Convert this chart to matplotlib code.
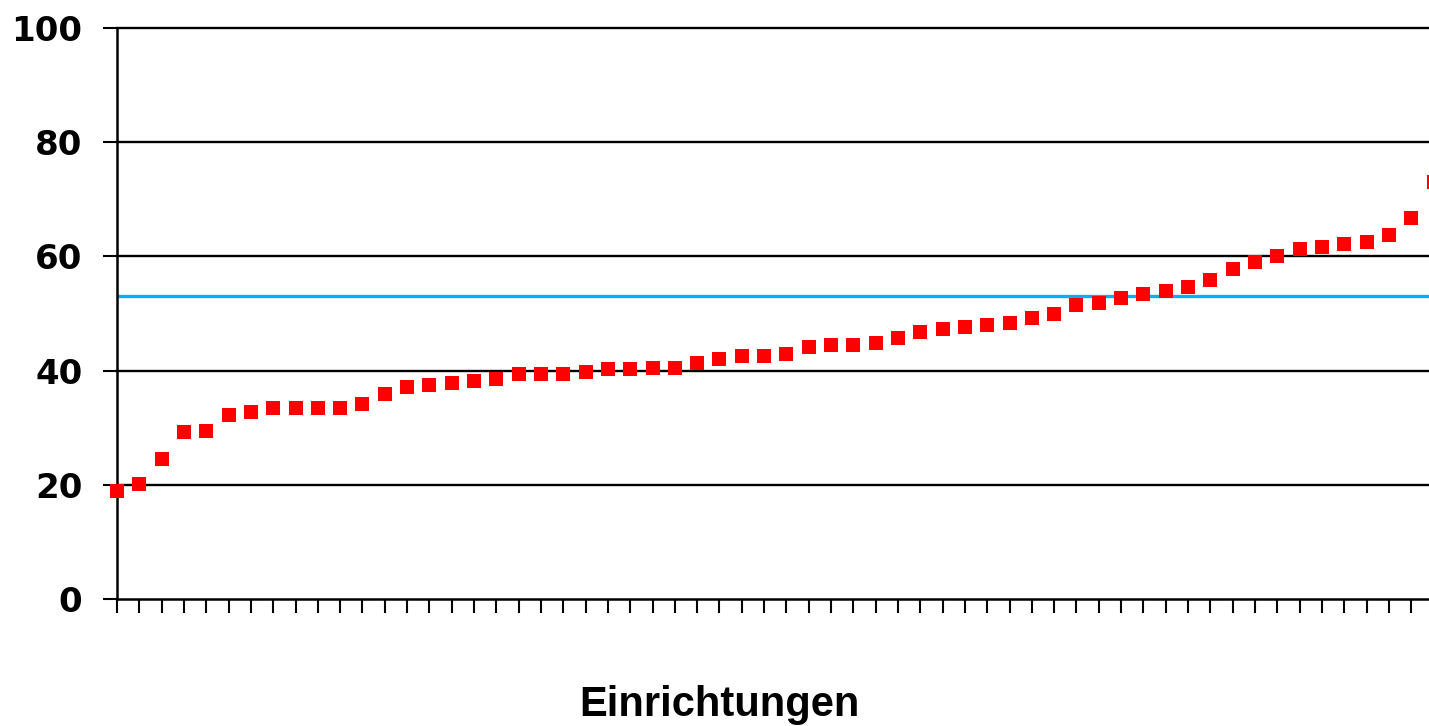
import numpy as np
import matplotlib
matplotlib.use("Agg")
import matplotlib.pyplot as plt

# Werte je Einrichtung (aufsteigend sortiert)
werte = [19.0, 20.1, 24.5, 29.2, 29.5, 32.3, 32.7, 33.5, 33.5, 33.5,
         33.5, 34.2, 35.9, 37.1, 37.5, 37.8, 38.2, 38.6, 39.4, 39.4,
         39.4, 39.8, 40.2, 40.2, 40.5, 40.5, 41.3, 42.1, 42.5, 42.5,
         42.9, 44.1, 44.5, 44.5, 44.9, 45.7, 46.8, 47.2, 47.6, 48.0,
         48.4, 49.2, 50.0, 51.5, 51.9, 52.7, 53.5, 53.9, 54.7, 55.9,
         57.8, 59.0, 60.1, 61.3, 61.7, 62.1, 62.5, 63.7, 66.8, 73.0]
mittelwert = 53.1
y_ticks = [0, 20, 40, 60, 80, 100]
x_label = "Einrichtungen"

W, H = 1429, 726
fig = plt.figure(figsize=(W / 100, H / 100), dpi=100)

# Achse reicht etwas über den rechten Bildrand hinaus (wie im Original abgeschnitten)
left, right, bottom, top = 117, 1433.5, 599, 28
ax = fig.add_axes([left / W, (H - bottom) / H, (right - left) / W, (bottom - top) / H])

x = np.arange(len(werte))
ax.set_xlim(0, len(werte) - 1)
ax.set_ylim(0, 100)

for yt in y_ticks[1:]:
    ax.axhline(yt, color="black", lw=1.7, zorder=1, clip_on=False)

ax.axhline(mittelwert, color="#00B0F0", lw=2.4, zorder=2)
ax.plot(x, werte, ls="none", marker="s", ms=9.6, color="#FF0000",
        markeredgewidth=0, zorder=3, clip_on=False)

for s in ["top", "right"]:
    ax.spines[s].set_visible(False)
for s in ["left", "bottom"]:
    ax.spines[s].set_linewidth(1.8)
    ax.spines[s].set_color("black")

ax.set_yticks(y_ticks)
ax.set_yticklabels([str(v) for v in y_ticks], fontsize=24.5, fontweight="bold",
                   family="DejaVu Sans")
ax.tick_params(axis="y", length=10, width=1.5, pad=15)
ax.set_xticks(x)
ax.set_xticklabels([])
ax.tick_params(axis="x", length=10, width=1.5)

fig.text(719 / W, 1 - 705 / H, x_label, ha="center", va="center",
         fontsize=30, fontweight="bold", family="Liberation Sans")

fig.savefig("out.png", dpi=100)
